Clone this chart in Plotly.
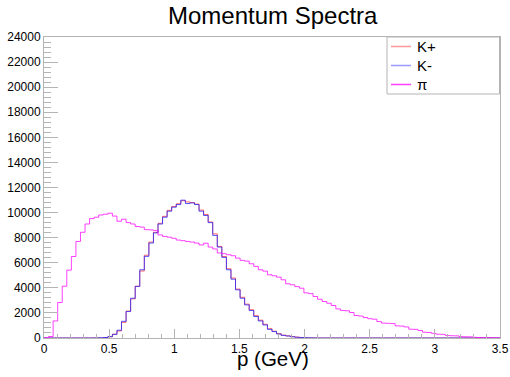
import numpy as np
import plotly.graph_objects as go

# ---- data (100 bins, 0 - 3.5 GeV) ----
n_bins = 100
p_min, p_max = 0.0, 3.5

pion = [20, 120, 1360, 2830, 4130, 5410, 6500, 7700, 8430, 9090,
        9520, 9630, 9810, 9870, 9950, 9720, 9310, 9470, 9200, 9090,
        8890, 8840, 8640, 8620, 8560, 8220, 8100, 8040, 7950, 7810,
        7760, 7700, 7650, 7570, 7420, 7560, 7250, 7100, 6780, 6720,
        6640, 6560, 6370, 6190, 6130, 5920, 5710, 5440, 5330, 5040,
        4960, 4850, 4640, 4320, 4240, 4100, 3970, 3600, 3540, 3310,
        3090, 2910, 2770, 2590, 2320, 2200, 2170, 2030, 1790, 1750,
        1630, 1540, 1500, 1310, 1190, 1170, 1150, 970, 950, 880,
        700, 690, 600, 460, 440, 370, 300, 290, 200, 180,
        170, 110, 100, 90, 50, 40, 30, 30, 10, 5]

k_minus = [0, 0, 0, 0, 0, 0, 0, 0, 0, 0,
           0, 5, 15, 40, 110, 290, 620, 1330, 2110, 3170,
           4110, 5440, 6510, 7570, 8380, 9090, 9630, 10110, 10430, 10640,
           10990, 10720, 10770, 10640, 10110, 9770, 9200, 8180, 7250, 6430,
           5440, 4690, 3840, 3170, 2640, 2190, 1710, 1360, 1040, 690,
           510, 320, 210, 160, 100, 60, 35, 20, 10, 5,
           0, 0, 0, 0, 0, 0, 0, 0, 0, 0,
           0, 0, 0, 0, 0, 0, 0, 0, 0, 0,
           0, 0, 0, 0, 0, 0, 0, 0, 0, 0,
           0, 0, 0, 0, 0, 0, 0, 0, 0, 0]

k_plus = [0, 0, 0, 0, 0, 0, 0, 0, 0, 0,
          0, 5, 10, 35, 100, 300, 560, 1250, 2150, 3120,
          4130, 5340, 6600, 7650, 8420, 9150, 9700, 10180, 10480, 10700,
          10950, 10850, 10800, 10680, 10200, 9850, 9250, 8300, 7300, 6500,
          5520, 4780, 3900, 3250, 2700, 2250, 1780, 1420, 1090, 740,
          540, 350, 230, 170, 110, 70, 40, 20, 10, 5,
          0, 0, 0, 0, 0, 0, 0, 0, 0, 0,
          0, 0, 0, 0, 0, 0, 0, 0, 0, 0,
          0, 0, 0, 0, 0, 0, 0, 0, 0, 0,
          0, 0, 0, 0, 0, 0, 0, 0, 0, 0]

series_names = ["K+", "K-", "\u03c0"]
series_colors = ["rgba(255,0,0,0.6)", "rgba(40,40,255,0.8)", "rgba(255,0,255,0.75)"]

x_ticks = [0, 0.5, 1, 1.5, 2, 2.5, 3, 3.5]
x_tick_text = ["0", "0.5", "1", "1.5", "2", "2.5", "3", "3.5"]
y_ticks = list(range(0, 24001, 2000))

edges = np.linspace(p_min, p_max, n_bins + 1)

W, H = 510, 377
ML, MR, MT, MB = 44, 10, 37, 39
PW, PH = W - ML - MR, H - MT - MB

fig = go.Figure()
for name, vals, col in zip(series_names, [k_plus, k_minus, pion], series_colors):
    fig.add_trace(go.Scatter(
        x=edges, y=list(vals) + [vals[-1]], mode="lines", name=name,
        line=dict(color=col, width=1, shape="hv"), showlegend=False,
        hoverinfo="skip"))

axis_col = "#b4b4b4"
font_fam = "Liberation Sans, Arial, Helvetica, sans-serif"

fig.update_xaxes(
    range=[p_min, p_max], tickvals=x_ticks, ticktext=x_tick_text,
    ticks="inside", ticklen=9, tickcolor=axis_col, tickwidth=1,
    minor=dict(dtick=0.1, ticks="inside", ticklen=4.5, tickcolor=axis_col, tickwidth=1),
    showline=True, linecolor=axis_col, linewidth=1, mirror=True,
    showgrid=False, zeroline=False, automargin=False,
    tickfont=dict(family=font_fam, size=12, color="black"))
fig.update_yaxes(
    range=[0, 24000], tickvals=y_ticks, ticktext=[str(v) for v in y_ticks],
    ticks="inside", ticklen=14, tickcolor=axis_col, tickwidth=1,
    minor=dict(dtick=400, ticks="inside", ticklen=7, tickcolor=axis_col, tickwidth=1),
    showline=True, linecolor=axis_col, linewidth=1, mirror=True,
    showgrid=False, zeroline=False, automargin=False,
    tickfont=dict(family=font_fam, size=12, color="black"))

def px_x(px):
    return (px - ML) / PW

def px_y(py):
    return (H - MB - py) / PH

annotations = [
    dict(text="Momentum Spectra", x=px_x(273), y=px_y(15.5), xref="paper", yref="paper",
         xanchor="center", yanchor="middle", showarrow=False,
         font=dict(family=font_fam, size=24, color="black")),
    dict(text="p (GeV)", x=px_x(272.5), y=px_y(359), xref="paper", yref="paper",
         xanchor="center", yanchor="middle", showarrow=False,
         font=dict(family=font_fam, size=20.5, color="black")),
]

shapes = [
    dict(type="rect", xref="paper", yref="paper",
         x0=px_x(387), x1=px_x(499.5), y0=px_y(94), y1=px_y(37),
         line=dict(color=axis_col, width=1), fillcolor="white", layer="above"),
]
legend_y = [46.5, 65.5, 84.5]
legend_line_cols = ["rgba(255,0,0,0.4)", "rgba(0,0,255,0.4)", "rgba(255,0,255,0.75)"]
for name, lc, ly in zip(series_names, legend_line_cols, legend_y):
    shapes.append(dict(type="line", xref="paper", yref="paper",
                       x0=px_x(391), x1=px_x(411), y0=px_y(ly), y1=px_y(ly),
                       line=dict(color=lc, width=1.5), layer="above"))
    annotations.append(dict(text=name, x=px_x(415), y=px_y(ly), xref="paper", yref="paper",
                            xanchor="left", yanchor="middle", showarrow=False,
                            font=dict(family=font_fam, size=15, color="black")))

fig.update_layout(
    width=W, height=H, margin=dict(l=ML, r=MR, t=MT, b=MB, pad=0, autoexpand=False),
    paper_bgcolor="white", plot_bgcolor="white",
    annotations=annotations, shapes=shapes, showlegend=False)

fig.write_html("out.html")
